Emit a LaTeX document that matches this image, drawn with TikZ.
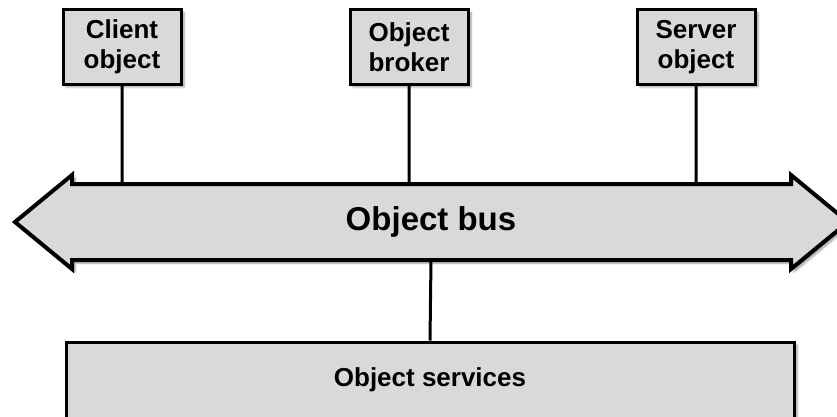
\documentclass[tikz,border=0pt]{standalone}
\usepackage{fontspec}
\setmainfont{Liberation Sans}
\usetikzlibrary{shadows.blur}
\definecolor{boxgray}{RGB}{217,217,217}
\begin{document}
\begin{tikzpicture}[x=1pt,y=1pt,line join=miter,
	objbox/.style={draw,line width=3pt,fill=boxgray,minimum width=118pt,minimum height=74pt,inner sep=0pt,align=center,
		font=\bfseries\fontsize{26}{30}\selectfont,blur shadow={shadow xshift=3pt,shadow yshift=-3pt,shadow blur steps=6}}]
	\useasboundingbox (0,0) rectangle (837,416);
	\node[objbox] (client) at (122,369) {Client\\object};
	\node[objbox] (broker) at (409,369) {Object\\broker};
	\node[objbox] (server) at (696,369) {Server\\object};
	% bus arrow, right tip runs off the page
	\draw[line width=4pt,fill=boxgray,blur shadow={shadow xshift=3pt,shadow yshift=-3pt,shadow blur steps=6}]
		(15,194)--(72,241)--(72,232)--(791,232)--(791,241)--(848,194)--(791,147)--(791,156)--(72,156)--(72,147)--cycle;
	\node[font=\bfseries\fontsize{33}{39}\selectfont] (bus) at (431,194) {Object bus};
	\coordinate (bustop) at (431,232);
	\coordinate (busbot) at (431,156);
	\node[objbox,minimum width=728pt,minimum height=76pt] (services) at (430,36) {Object services};
	\draw[line width=3pt] (client.south)--(client.south |- bustop) (broker.south)--(broker.south |- bustop)
		(server.south)--(server.south |- bustop) (busbot)--(services.north);
\end{tikzpicture}
\end{document}
